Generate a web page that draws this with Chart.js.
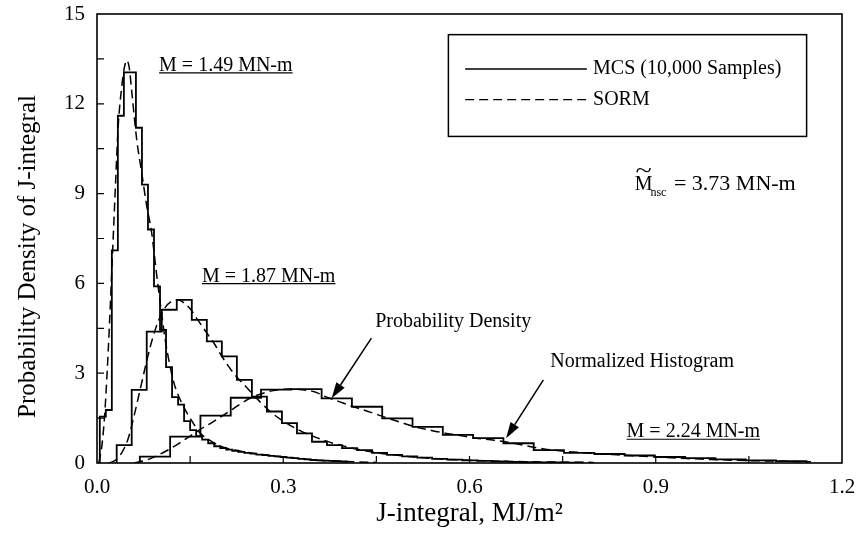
<!DOCTYPE html>
<html>
<head>
<meta charset="utf-8">
<script src="https://cdn.jsdelivr.net/npm/chart.js@4.4.1/dist/chart.umd.min.js"></script>
<style>
  html, body { margin: 0; padding: 0; background: #fff; }
</style>
</head>
<body>
<canvas id="myChart" width="857" height="538"></canvas>
<script>
// Histogram bin edges and heights
const hist1Edges = [0.0045, 0.0142, 0.0239, 0.0336, 0.0433, 0.0530, 0.0627, 0.0724, 0.0821, 0.0918,
  0.1015, 0.1112, 0.1209, 0.1306, 0.1403, 0.1500, 0.1597, 0.1694, 0.1791, 0.1888, 0.1985, 0.2082,
  0.2179, 0.2276, 0.2373, 0.2470, 0.2567, 0.2664, 0.2761, 0.2858, 0.2955, 0.3052, 0.3149, 0.3246,
  0.3343, 0.3440, 0.3537, 0.3634, 0.3731, 0.3828, 0.3925, 0.4022];
const hist1Heights = [1.55, 1.77, 7.1, 11.6, 13.05, 13.05, 11.2, 9.3, 7.8, 5.9, 4.45, 3.2, 2.2, 1.95,
  1.4, 1.1, 0.9, 0.78, 0.66, 0.56, 0.5, 0.45, 0.41, 0.37, 0.34, 0.31, 0.28, 0.26, 0.24, 0.22, 0.2,
  0.18, 0.16, 0.14, 0.12, 0.1, 0.09, 0.08, 0.07, 0.06, 0.05];

const hist2Edges = [0.0317, 0.0559, 0.0801, 0.1043, 0.1285, 0.1527, 0.1769, 0.2011, 0.2253, 0.2495,
  0.2737, 0.2979, 0.3221, 0.3463, 0.3705, 0.3947, 0.4189, 0.4431, 0.4673, 0.4915, 0.5157, 0.5399,
  0.5641, 0.5883, 0.6125, 0.6367, 0.6609, 0.6851, 0.7093, 0.7335, 0.7577, 0.7819];
const hist2Heights = [0.6, 2.44, 4.39, 5.12, 5.45, 4.78, 4.06, 3.56, 2.78, 2.22, 1.72, 1.33, 0.99,
  0.71, 0.6, 0.5, 0.43, 0.34, 0.27, 0.22, 0.18, 0.14, 0.11, 0.09, 0.07, 0.05, 0.04, 0.03, 0.02,
  0.02, 0.01];

const hist3Edges = [0.0690, 0.1178, 0.1666, 0.2154, 0.2642, 0.3130, 0.3618, 0.4106, 0.4594, 0.5082,
  0.5570, 0.6058, 0.6546, 0.7034, 0.7522, 0.8010, 0.8498, 0.8986, 0.9474, 0.9962, 1.0450, 1.0938,
  1.1426];
const hist3Heights = [0.21, 0.88, 1.58, 2.18, 2.45, 2.47, 2.16, 1.88, 1.49, 1.21, 0.94, 0.83, 0.66,
  0.43, 0.34, 0.30, 0.25, 0.20, 0.16, 0.12, 0.09, 0.06];

// SORM densities
const sorm1X = [0.003, 0.008, 0.012, 0.016, 0.02, 0.025, 0.03, 0.034, 0.04, 0.044, 0.048, 0.052,
  0.056, 0.064, 0.072, 0.08, 0.088, 0.096, 0.104, 0.11, 0.117, 0.125, 0.139, 0.15, 0.166, 0.18,
  0.2, 0.23, 0.26, 0.3, 0.35, 0.4, 0.45];
const sorm1Y = [0, 0.6, 1.5, 2.9, 4.6, 7.0, 9.4, 11.2, 12.6, 13.2, 13.45, 13.2, 12.4, 10.8, 9.7,
  8.6, 7.7, 6.3, 5.0, 4.1, 3.3, 2.6, 1.9, 1.5, 1.0, 0.78, 0.55, 0.4, 0.3, 0.2, 0.1, 0.05, 0.02];

const sorm2X = [0.02, 0.03, 0.04, 0.05, 0.06, 0.07, 0.08, 0.09, 0.1, 0.11, 0.12, 0.13, 0.14, 0.15,
  0.16, 0.17, 0.18, 0.19, 0.2, 0.22, 0.24, 0.26, 0.28, 0.3, 0.33, 0.36, 0.4, 0.45, 0.5, 0.55, 0.6,
  0.7, 0.8];
const sorm2Y = [0, 0.1, 0.35, 0.8, 1.6, 2.5, 3.4, 4.2, 4.8, 5.2, 5.4, 5.45, 5.35, 5.15, 4.85, 4.55,
  4.25, 3.95, 3.6, 3.0, 2.55, 2.1, 1.7, 1.4, 1.05, 0.8, 0.55, 0.35, 0.22, 0.14, 0.09, 0.04, 0.02];

const sorm3X = [0.06, 0.07, 0.08, 0.1, 0.12, 0.136, 0.15, 0.169, 0.185, 0.2, 0.22, 0.233, 0.25,
  0.27, 0.29, 0.31, 0.33, 0.35, 0.37, 0.39, 0.413, 0.44, 0.461, 0.49, 0.51, 0.54, 0.563, 0.59,
  0.611, 0.64, 0.66, 0.69, 0.72, 0.76, 0.8, 0.85, 0.9, 0.95, 1.0, 1.05, 1.1, 1.15];
const sorm3Y = [0, 0.05, 0.1, 0.28, 0.5, 0.71, 0.9, 1.16, 1.35, 1.55, 1.82, 2.0, 2.2, 2.35, 2.44,
  2.47, 2.45, 2.38, 2.2, 2.05, 1.88, 1.7, 1.55, 1.35, 1.22, 1.08, 0.99, 0.9, 0.83, 0.76, 0.7, 0.58,
  0.47, 0.38, 0.32, 0.26, 0.2, 0.15, 0.11, 0.08, 0.06, 0.04];

// tick marks (drawn inward)
const xTickMarks = [0.15, 0.3, 0.45, 0.6, 0.75, 0.9, 1.05];
const yTickMarks = [1.5, 3, 4.5, 6, 7.5, 9, 10.5, 12, 13.5];

const SERIF = "'Liberation Serif', 'Times New Roman', serif";
const yTitle = "Probability Density of J-integral";

// text notes placed in data units
const notes = [
  { text: "M = 1.49 MN-m", x: 0.1, y: 13.1, underline: true },
  { text: "M = 1.87 MN-m", x: 0.169, y: 6.06, underline: true },
  { text: "M = 2.24 MN-m", x: 0.853, y: 0.86, underline: true },
  { text: "Probability Density", x: 0.448, y: 4.55 },
  { text: "Normalized Histogram", x: 0.73, y: 3.22 },
];
const arrows = [
  { from: [0.442, 4.17], to: [0.378, 2.16] },
  { from: [0.719, 2.78], to: [0.659, 0.83] },
];

function histPoints(edges, heights) {
  const pts = [{ x: edges[0], y: 0 }];
  heights.forEach((h, i) => pts.push({ x: edges[i], y: h }));
  pts.push({ x: edges[edges.length - 1], y: 0 });
  return pts;
}

function curvePoints(xs, ys) {
  return xs.map((x, i) => ({ x: x, y: ys[i] }));
}

const histStyle = { borderColor: "#000", borderWidth: 1.8, stepped: true, pointRadius: 0 };
const dashStyle = { borderColor: "#000", borderWidth: 1.5, borderDash: [9, 5], pointRadius: 0,
  cubicInterpolationMode: "monotone" };

const paperPlugin = {
  id: "paper",
  afterDatasetsDraw(chart) {
    const { ctx, chartArea: a, scales: { x, y } } = chart;
    const px = (v) => x.getPixelForValue(v);
    const py = (v) => y.getPixelForValue(v);
    ctx.save();
    ctx.strokeStyle = "#000";
    ctx.fillStyle = "#000";
    ctx.setLineDash([]);

    // frame + ticks
    ctx.lineWidth = 1.6;
    ctx.strokeRect(a.left, a.top, a.right - a.left, a.bottom - a.top);
    ctx.lineWidth = 1.2;
    ctx.beginPath();
    xTickMarks.forEach((v) => { ctx.moveTo(px(v), a.bottom); ctx.lineTo(px(v), a.bottom - 7); });
    yTickMarks.forEach((v) => { ctx.moveTo(a.left, py(v)); ctx.lineTo(a.left + 7, py(v)); });
    ctx.stroke();

    // y axis title (sits a bit below the plot middle in the original)
    ctx.save();
    ctx.font = "25px " + SERIF;
    ctx.textAlign = "center";
    ctx.textBaseline = "middle";
    ctx.translate(28, py(6.9));
    ctx.rotate(-Math.PI / 2);
    ctx.fillText(yTitle, 0, 0);
    ctx.restore();

    // notes
    ctx.font = "20px " + SERIF;
    ctx.textBaseline = "alphabetic";
    ctx.textAlign = "left";
    notes.forEach((n) => {
      const tx = px(n.x), ty = py(n.y);
      ctx.fillText(n.text, tx, ty);
      if (n.underline) {
        const w = ctx.measureText(n.text).width;
        ctx.lineWidth = 1.2;
        ctx.beginPath();
        ctx.moveTo(tx, ty + 2);
        ctx.lineTo(tx + w, ty + 2);
        ctx.stroke();
      }
    });

    // arrows
    arrows.forEach((ar) => {
      const x0 = px(ar.from[0]), y0 = py(ar.from[1]);
      const x1 = px(ar.to[0]), y1 = py(ar.to[1]);
      const ang = Math.atan2(y1 - y0, x1 - x0);
      const len = 16, half = 5;
      const bx = x1 - len * Math.cos(ang), by = y1 - len * Math.sin(ang);
      ctx.lineWidth = 1.5;
      ctx.beginPath();
      ctx.moveTo(x0, y0);
      ctx.lineTo(bx, by);
      ctx.stroke();
      ctx.beginPath();
      ctx.moveTo(x1, y1);
      ctx.lineTo(bx + half * Math.sin(ang), by - half * Math.cos(ang));
      ctx.lineTo(bx - half * Math.sin(ang), by + half * Math.cos(ang));
      ctx.closePath();
      ctx.fill();
    });

    // legend box
    ctx.lineWidth = 1.5;
    ctx.strokeRect(px(0.566), py(14.31), px(1.143) - px(0.566), py(10.91) - py(14.31));
    ctx.beginPath();
    ctx.moveTo(px(0.593), py(13.16));
    ctx.lineTo(px(0.789), py(13.16));
    ctx.stroke();
    ctx.lineWidth = 1.4;
    ctx.setLineDash([9, 5]);
    ctx.beginPath();
    ctx.moveTo(px(0.593), py(12.14));
    ctx.lineTo(px(0.789), py(12.14));
    ctx.stroke();
    ctx.setLineDash([]);
    ctx.textBaseline = "middle";
    ctx.fillText("MCS (10,000 Samples)", px(0.799), py(13.16));
    ctx.fillText("SORM", px(0.799), py(12.14));

    // M~nsc label
    ctx.textBaseline = "alphabetic";
    const mx = px(0.866), my = py(9.13);
    ctx.fillText("M", mx, my);
    const mw = ctx.measureText("M").width;
    ctx.save();
    ctx.translate(mx + mw / 2, my - 13);
    ctx.scale(1.5, 1);
    ctx.textAlign = "center";
    ctx.fillText("~", 0, 0);
    ctx.restore();
    ctx.font = "12px " + SERIF;
    ctx.fillText("nsc", mx + mw - 2, my + 6);
    const sw = ctx.measureText("nsc").width;
    ctx.font = "22px " + SERIF;
    ctx.fillText(" = 3.73 MN-m", mx + mw + sw, my);

    ctx.restore();
  },
};

new Chart(document.getElementById("myChart"), {
  type: "line",
  data: {
    datasets: [
      { data: histPoints(hist1Edges, hist1Heights), ...histStyle },
      { data: histPoints(hist2Edges, hist2Heights), ...histStyle },
      { data: histPoints(hist3Edges, hist3Heights), ...histStyle },
      { data: curvePoints(sorm1X, sorm1Y), ...dashStyle },
      { data: curvePoints(sorm2X, sorm2Y), ...dashStyle },
      { data: curvePoints(sorm3X, sorm3Y), ...dashStyle },
    ],
  },
  options: {
    responsive: false,
    animation: false,
    layout: { padding: { top: 14, right: 15, left: 0, bottom: 0 } },
    plugins: { legend: { display: false }, tooltip: { enabled: false } },
    scales: {
      x: {
        type: "linear",
        min: 0,
        max: 1.2,
        afterFit: (s) => { s.height = 75; s.paddingLeft = 0; s.paddingRight = 0; },
        grid: { display: false, drawTicks: false },
        border: { display: false },
        ticks: {
          stepSize: 0.3,
          callback: (v) => Number(v).toFixed(1),
          font: { family: SERIF, size: 21 },
          color: "#000",
          padding: 12,
          maxRotation: 0,
        },
        title: {
          display: true,
          text: "J-integral, MJ/m²",
          font: { family: SERIF, size: 27 },
          color: "#000",
          padding: { top: 0, bottom: 8 },
        },
      },
      y: {
        min: 0,
        max: 15,
        afterFit: (s) => { s.width = 97; s.paddingTop = 0; s.paddingBottom = 0; },
        grid: { display: false, drawTicks: false },
        border: { display: false },
        ticks: {
          stepSize: 3,
          font: { family: SERIF, size: 21 },
          color: "#000",
          padding: 12,
        },
        title: { display: false },
      },
    },
  },
  plugins: [paperPlugin],
});
</script>
</body>
</html>
